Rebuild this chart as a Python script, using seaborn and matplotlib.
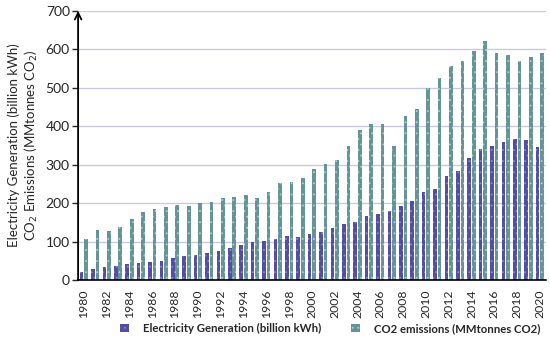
import matplotlib
matplotlib.use("Agg")
import matplotlib.pyplot as plt
import seaborn as sns
import pandas as pd

years = list(range(1980, 2021))
electricity = [20, 28, 33, 36, 41, 44, 48, 51, 57, 62, 65, 70, 75, 83, 92, 100,
               102, 108, 115, 113, 120, 126, 135, 146, 152, 167, 172, 180, 193, 205,
               228, 237, 272, 285, 318, 341, 349, 359, 367, 365, 347]
co2 = [108, 130, 128, 137, 160, 176, 186, 190, 195, 193, 200, 204, 214, 216, 222, 214,
       228, 253, 256, 265, 290, 302, 312, 348, 390, 406, 407, 349, 427, 445,
       500, 526, 557, 570, 596, 622, 591, 586, 570, 581, 591]
series_names = ["Electricity Generation (billion kWh)", "CO2 emissions (MMtonnes CO2)"]

df = pd.DataFrame({
    "year": years * 2,
    "value": electricity + co2,
    "series": [series_names[0]] * len(years) + [series_names[1]] * len(years),
})

sns.set_style("white")
plt.rcParams["font.family"] = ["Lato", "DejaVu Sans"]
plt.rcParams["hatch.linewidth"] = 0.6

fig = plt.figure(figsize=(5.5, 3.4), dpi=100)
ax = fig.add_axes([0.142, 0.176, 0.85, 0.792])

colors = ["#4a3fb0", "#5e9c9e"]
hatch_cols = ["#8a86e0", "#a4d2d2"]
sns.barplot(data=df, x="year", y="value", hue="series", palette=colors,
            width=0.8, gap=0.2, ax=ax, legend=True)

for cont, hc in zip(ax.containers, hatch_cols):
    for p in cont:
        p.set_hatch("...")
        p.set_edgecolor(hc)
        p.set_linewidth(0)

ax.set_ylim(0, 700)
ax.set_yticks(range(0, 701, 100))
ax.yaxis.grid(True, color="#c9c9e3", lw=1)
ax.set_axisbelow(True)
ax.set_xticks(range(0, len(years), 2))
ax.set_xticklabels([str(y) for y in years[::2]], rotation=90, fontsize=8.8)
ax.tick_params(axis="y", labelsize=10, left=True, length=4, width=1, pad=2)
ax.tick_params(axis="x", bottom=False, pad=3)
ax.set_xlabel("")
ax.set_ylabel("Electricity Generation (billion kWh)\nCO$_2$ Emissions (MMtonnes CO$_2$)",
              fontsize=9.5, labelpad=4)
for s in ["top", "right", "left"]:
    ax.spines[s].set_visible(False)
ax.spines["bottom"].set_color("black")
ax.spines["bottom"].set_linewidth(1.2)
ax.annotate("", xy=(0, 1.0), xycoords="axes fraction", xytext=(0, 0),
            arrowprops=dict(arrowstyle="->", lw=1.3, color="black",
                            mutation_scale=12, shrinkA=0, shrinkB=0))

handles, labels = ax.get_legend_handles_labels()
ax.legend_.remove()
for h, hc in zip(handles, hatch_cols):
    h.set_hatch("...")
    h.set_edgecolor(hc)
    h.set_linewidth(0)
fig.legend(handles, labels, loc="lower left", ncol=2, frameon=False,
           bbox_to_anchor=(0.2, -0.012), handlelength=0.8, handleheight=0.8,
           handletextpad=1.2, columnspacing=2.6, prop={"weight": "bold", "size": 8.2})

fig.savefig("out.png", dpi=100)
